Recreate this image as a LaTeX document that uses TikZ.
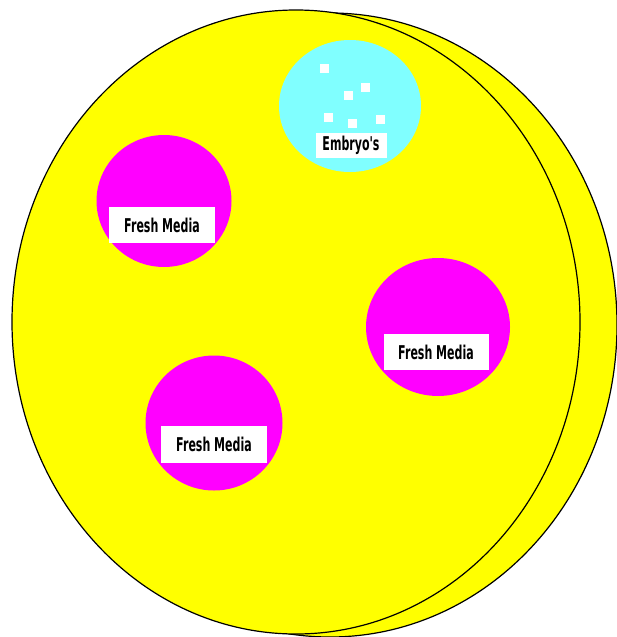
\documentclass[tikz,border=0pt]{standalone}
\usepackage{fontspec}
\usetikzlibrary{shapes.geometric}
\newfontfamily\tagfont[FakeStretch=0.58]{DejaVu Sans}

\definecolor{dishyellow}{RGB}{255,255,0}
\definecolor{mediapink}{RGB}{255,0,255}
\definecolor{embryoblue}{RGB}{128,255,255}

\tikzset{
  dish/.style={fill=dishyellow, draw=black, line width=1.2pt},
  media/.style={ellipse, fill=mediapink, inner sep=0pt},
  embryos/.style={ellipse, fill=embryoblue, inner sep=0pt},
  tag/.style={rectangle, fill=white, inner sep=0pt, font=\tagfont\bfseries\fontsize{19}{19}\selectfont},
  speck/.style={fill=white}
}

\begin{document}
\begin{tikzpicture}[x=1pt, y=-1pt]
  \useasboundingbox (0,0) rectangle (616,637);

  % Lid and dish
  \draw[dish] (330,325) ellipse (287pt and 312pt);
  \draw[dish] (296,322) ellipse (284pt and 312pt);

  % Drops of fresh media
  \node[media, minimum width=135pt, minimum height=132pt] (drop1) at (164,201) {};
  \node[media, minimum width=144pt, minimum height=138pt] (drop2) at (438,327) {};
  \node[media, minimum width=137pt, minimum height=135pt] (drop3) at (214,423) {};

  \node[tag, minimum width=106pt, minimum height=36pt] (tag1) at (162,225) {Fresh Media};
  \node[tag, minimum width=105pt, minimum height=36pt] (tag2) at (436,352) {Fresh Media};
  \node[tag, minimum width=106pt, minimum height=37pt] (tag3) at (214,444) {Fresh Media};

  % Drop with the embryos
  \node[embryos, minimum width=142pt, minimum height=132pt] (drop0) at (350,106) {};
  \foreach \x/\y in {324/68, 365/87, 348/95, 328/117, 352/123, 380/119}
    \fill[speck] (\x-4.5,\y-4.5) rectangle (\x+4.5,\y+4.5);
  \node[tag, minimum width=71pt, minimum height=25pt] (tag0) at (351,145) {Embryo's};
\end{tikzpicture}
\end{document}
